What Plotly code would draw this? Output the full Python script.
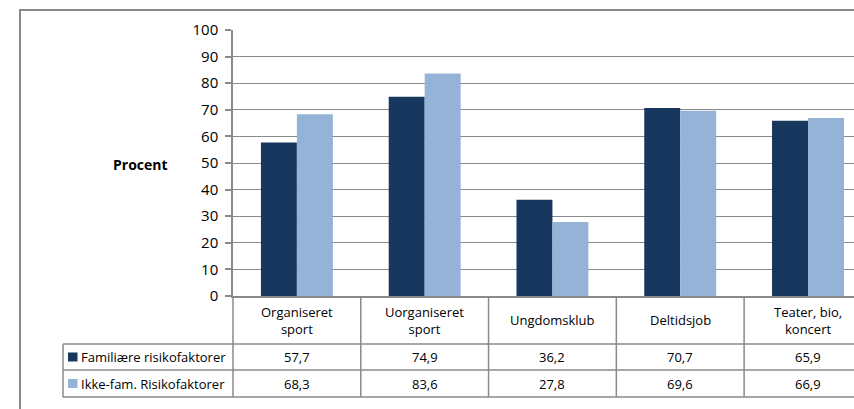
import plotly.graph_objects as go

categories = ["Organiseret<br>sport", "Uorganiseret<br>sport", "Ungdomsklub", "Deltidsjob", "Teater, bio,<br>koncert"]
series_names = ["Familiære risikofaktorer", "Ikke-fam. Risikofaktorer"]
fam_values = [57.7, 74.9, 36.2, 70.7, 65.9]
ikke_values = [68.3, 83.6, 27.8, 69.6, 66.9]
colors = ["#17375E", "#95B3D7"]

W, H = 854, 409
L, R, T, B = 233, 0, 30, 113
XMIN, XMAX = -0.5, 4.36
grey = "#8A8A8A"
font = "Open Sans"


def px(x):
    # pixel -> paper x
    return (x - L) / (W - L - R)


def py(y):
    # pixel -> paper y
    return (H - B - y) / (H - T - B)


def dx(v):
    # data x -> paper x
    return (v - XMIN) / (XMAX - XMIN)


def fmt(v):
    return f"{v:.1f}".replace(".", ",")


xs = list(range(len(categories)))
fig = go.Figure()
for name, vals, col in zip(series_names, [fam_values, ikke_values], colors):
    fig.add_trace(go.Bar(x=xs, y=vals, name=name, marker=dict(color=col, line=dict(width=0))))

shapes = []
annotations = []

# table rows (pixel y of row edges)
row_top, row1, row2, row3 = 296, 344, 370, 397
for y in [row1, row2, row3]:
    shapes.append(dict(type="line", xref="paper", yref="paper", x0=px(63), x1=1.05,
                       y0=py(y), y1=py(y), line=dict(color=grey, width=1.5)))
shapes.append(dict(type="line", xref="paper", yref="paper", x0=px(63), x1=px(63),
                   y0=py(row1), y1=py(row3), line=dict(color=grey, width=1.5)))
for i in range(len(categories)):
    xb = dx(i - 0.5)
    shapes.append(dict(type="line", xref="paper", yref="paper", x0=xb, x1=xb,
                       y0=py(row_top), y1=py(row3), line=dict(color=grey, width=1.5)))

# outer chart border
shapes.append(dict(type="rect", xref="paper", yref="paper", x0=px(20), x1=1.3,
                   y0=py(10), y1=-1.0, line=dict(color=grey, width=2), fillcolor="rgba(0,0,0,0)"))

tfont = dict(family=font, size=13, color="#000")
for i, cat in enumerate(categories):
    annotations.append(dict(x=i, y=py((row_top + row1) / 2), xref="x", yref="paper", text=cat,
                            showarrow=False, font=tfont, align="center", yanchor="middle"))
    annotations.append(dict(x=i, y=py((row1 + row2) / 2), xref="x", yref="paper", text=fmt(fam_values[i]),
                            showarrow=False, font=tfont, yanchor="middle"))
    annotations.append(dict(x=i, y=py((row2 + row3) / 2), xref="x", yref="paper", text=fmt(ikke_values[i]),
                            showarrow=False, font=tfont, yanchor="middle"))

# legend keys inside the table
for name, col, (ya, yb) in zip(series_names, colors, [(row1, row2), (row2, row3)]):
    yc = (ya + yb) / 2
    shapes.append(dict(type="rect", xref="paper", yref="paper", x0=px(68), x1=px(77.5),
                       y0=py(yc - 4.5), y1=py(yc + 4.5), line=dict(width=0), fillcolor=col))
    annotations.append(dict(x=px(79), y=py(yc), xref="paper", yref="paper", xanchor="left", yanchor="middle",
                            text=name, showarrow=False, font=tfont))

annotations.append(dict(x=px(140), y=py(164), xref="paper", yref="paper", text="<b>Procent</b>",
                        xanchor="center", yanchor="middle",
                        showarrow=False, font=dict(family=font, size=14, color="#000")))

fig.update_layout(
    width=W, height=H,
    margin=dict(l=L, r=R, t=T, b=B),
    paper_bgcolor="white", plot_bgcolor="white",
    barmode="group", bargap=0.437, bargroupgap=0,
    showlegend=False,
    shapes=shapes, annotations=annotations,
    font=dict(family=font, color="#000"),
)
fig.update_xaxes(range=[XMIN, XMAX], showticklabels=False, showgrid=False, zeroline=False,
                 showline=True, linecolor=grey, linewidth=1.5, ticks="")
fig.update_yaxes(range=[0, 100], dtick=10, showgrid=True, gridcolor=grey, gridwidth=1.3,
                 zeroline=False, showline=True, linecolor=grey, linewidth=1.5,
                 ticks="outside", ticklen=6, tickcolor=grey, tickwidth=1.5,
                 ticklabelstandoff=4,
                 tickfont=dict(family=font, size=15, color="#000"))

fig.write_html("out.html", config={"displayModeBar": False},
               post_script="document.body.style.margin='0';")
